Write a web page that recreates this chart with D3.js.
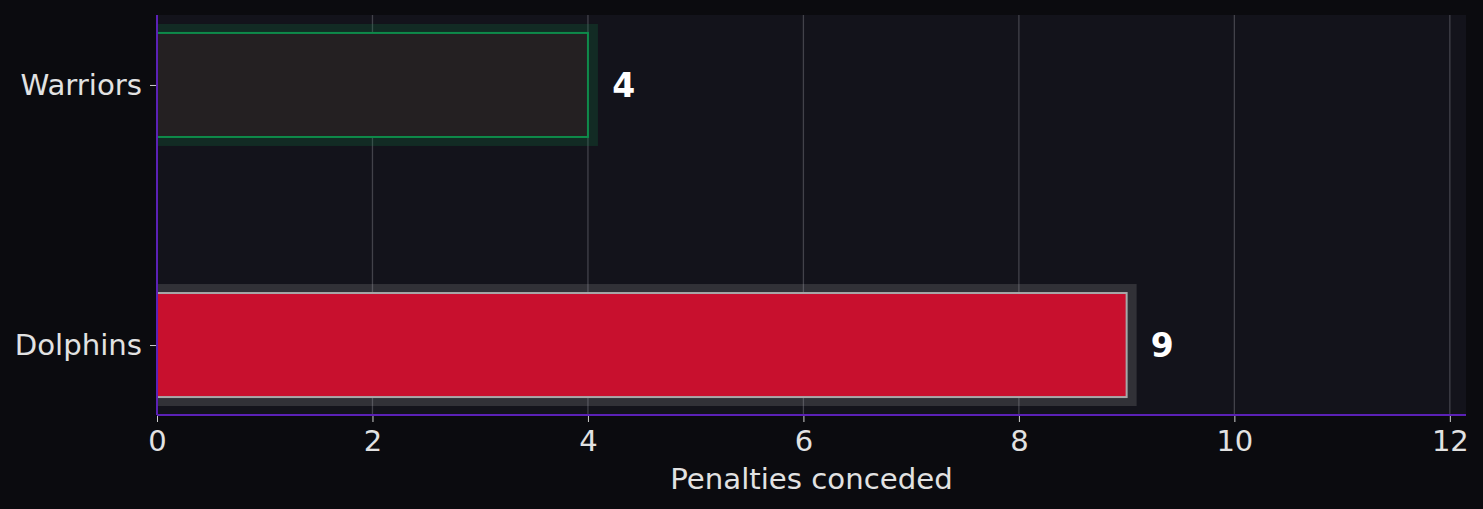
<!DOCTYPE html>
<head>
<meta charset="utf-8">
<title>Penalties conceded</title>
<style>
body { margin: 0; background: #0b0b0f; }
svg, svg text { font-family: "DejaVu Sans", sans-serif; }
svg { display: block; }
.tick text { fill: #e2e2e2; }
.tick line { stroke: #cfcfcf; }
</style>
</head>
<body>
<div id="chart"></div>
<script src="https://d3js.org/d3.v7.min.js"></script>
<script>

// Data
var teams = ["Warriors", "Dolphins"];
var penalties = [4, 9];
var fills = ["#242022", "#c8102e"];
var edges = ["#0e8a4a", "#a8a8a8"];
var xTicks = [0, 2, 4, 6, 8, 10, 12];

var W = 1483, H = 509;
var margin = {top: 15, right: 17, bottom: 94, left: 157},
    width = W - margin.left - margin.right,
    height = H - margin.top - margin.bottom;

var data = teams.map(function(t, i) {
  return {team: t, value: penalties[i], fill: fills[i], edge: edges[i]};
});

var x = d3.scaleLinear()
          .domain([0, d3.max(penalties) * 1.35])
          .range([0, width]);
var y = d3.scalePoint()
          .domain(teams)
          .range([0, height])
          .padding(0.269);
var barH = y.step() * 0.4;

var svg = d3.select("#chart").append("svg")
    .attr("width", W)
    .attr("height", H);

svg.append("rect").attr("width", W).attr("height", H).attr("fill", "#0b0b0f");

var g = svg.append("g")
    .attr("transform", "translate(" + margin.left + "," + margin.top + ")");

g.append("rect")
    .attr("width", width)
    .attr("height", height)
    .attr("fill", "#13131b");

g.append("clipPath").attr("id", "plot")
  .append("rect").attr("width", width).attr("height", height);

// vertical gridlines
g.append("g")
  .selectAll("line")
  .data(xTicks)
  .enter().append("line")
    .attr("x1", function(d) { return x(d); })
    .attr("x2", function(d) { return x(d); })
    .attr("y1", 0)
    .attr("y2", height)
    .attr("stroke", "#42424a")
    .attr("stroke-width", 1.3);

var bars = g.append("g").attr("clip-path", "url(#plot)");

// glow behind each bar
bars.selectAll(".glow")
    .data(data)
  .enter().append("rect")
    .attr("class", "glow")
    .attr("x", -10)
    .attr("y", function(d) { return y(d.team) - barH / 2 - 9; })
    .attr("width", function(d) { return x(d.value) + 20; })
    .attr("height", barH + 18)
    .attr("fill", function(d) { return d.edge; })
    .attr("opacity", 0.2);

bars.selectAll(".bar")
    .data(data)
  .enter().append("rect")
    .attr("class", "bar")
    .attr("x", 0)
    .attr("y", function(d) { return y(d.team) - barH / 2; })
    .attr("width", function(d) { return x(d.value); })
    .attr("height", barH)
    .attr("fill", function(d) { return d.fill; })
    .attr("stroke", function(d) { return d.edge; })
    .attr("stroke-width", 2);

// value labels
g.selectAll(".val")
    .data(data)
  .enter().append("text")
    .attr("class", "val")
    .attr("x", function(d) { return x(d.value + 0.225); })
    .attr("y", function(d) { return y(d.team); })
    .attr("dy", "0.35em")
    .attr("fill", "#ffffff")
    .style("font-size", "33px")
    .style("font-weight", "bold")
    .text(function(d) { return d.value; });

// axes
var xAxis = g.append("g")
    .attr("transform", "translate(0," + height + ")")
    .call(d3.axisBottom(x).tickValues(xTicks).tickSize(7).tickPadding(8));
xAxis.selectAll("text").style("font-size", "29px").attr("dy", "0.71em");

var yAxis = g.append("g")
    .call(d3.axisLeft(y).tickSize(7).tickPadding(8));
yAxis.selectAll("text").style("font-size", "29.2px");

g.selectAll(".domain").remove();

// purple spines
g.append("line").attr("x1", 0).attr("x2", 0).attr("y1", 0).attr("y2", height)
    .attr("stroke", "#5b21b6").attr("stroke-width", 2);
g.append("line").attr("x1", 0).attr("x2", width).attr("y1", height).attr("y2", height)
    .attr("stroke", "#5b21b6").attr("stroke-width", 2);

// axis title
svg.append("text")
    .attr("x", margin.left + width / 2)
    .attr("y", 489)
    .attr("text-anchor", "middle")
    .attr("fill", "#e2e2e2")
    .style("font-size", "29.2px")
    .text("Penalties conceded");

</script>
</body>
</html>
